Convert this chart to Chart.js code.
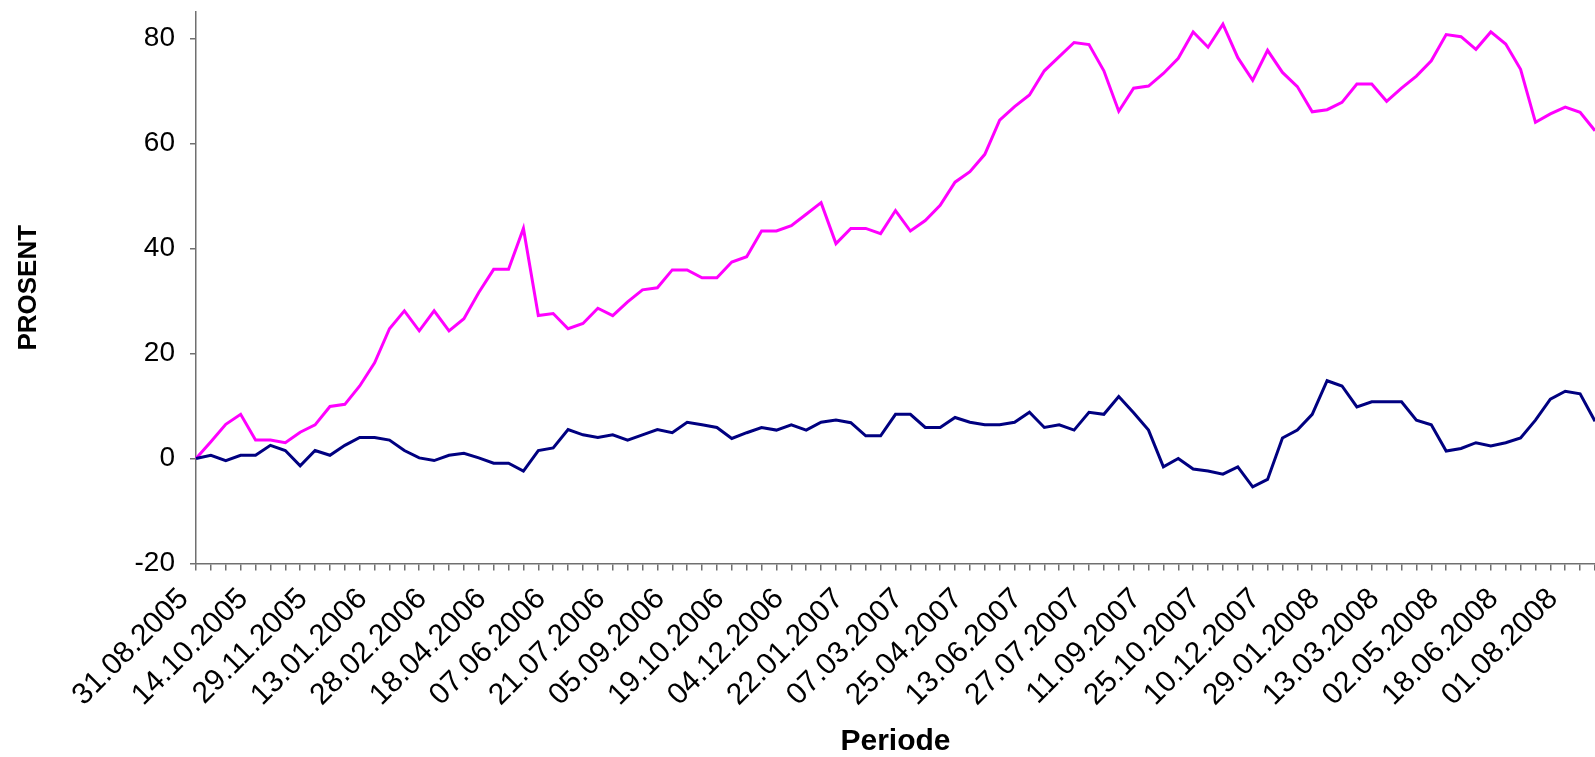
<!DOCTYPE html>
<html>
<head>
<meta charset="utf-8">
<script src="https://cdn.jsdelivr.net/npm/chart.js@4"></script>
<style>
  body { margin: 0; background: #fff; }
  #wrap { width: 1595px; height: 757px; }
</style>
</head>
<body>
<div id="wrap"><canvas id="prosentChart"></canvas></div>
<script>
// dates shown under every 4th observation
const tickLabels = [
    '31.08.2005', '14.10.2005', '29.11.2005', '13.01.2006', '28.02.2006', '18.04.2006',
    '07.06.2006', '21.07.2006', '05.09.2006', '19.10.2006', '04.12.2006', '22.01.2007',
    '07.03.2007', '25.04.2007', '13.06.2007', '27.07.2007', '11.09.2007', '25.10.2007',
    '10.12.2007', '29.01.2008', '13.03.2008', '02.05.2008', '18.06.2008', '01.08.2008'
];

const yTicks = [-20, 0, 20, 40, 60, 80];

// magenta series (percent)
const serie1 = [
    0, 3.2, 6.5, 8.4, 3.5, 3.5, 3.0, 5.0, 6.4, 9.9,
    10.3, 13.8, 18.2, 24.7, 28.1, 24.3, 28.1, 24.3, 26.6, 31.6,
    36.0, 36.0, 43.8, 27.2, 27.6, 24.7, 25.7, 28.6, 27.2, 29.8,
    32.1, 32.5, 35.9, 35.9, 34.4, 34.4, 37.4, 38.4, 43.3, 43.3,
    44.3, 46.5, 48.7, 40.9, 43.8, 43.8, 42.8, 47.2, 43.3, 45.3,
    48.2, 52.6, 54.6, 57.9, 64.4, 67.0, 69.2, 73.8, 76.5, 79.2,
    78.8, 73.8, 66.1, 70.5, 70.9, 73.3, 76.2, 81.2, 78.3, 82.7,
    76.3, 72.0, 77.7, 73.5, 70.8, 66.0, 66.4, 67.8, 71.3, 71.3,
    68.0, 70.5, 72.8, 75.7, 80.7, 80.3, 77.9, 81.2, 78.9, 74.1,
    64.0, 65.6, 66.9, 65.9, 62.4
];

// navy series (percent)
const serie2 = [
    0, 0.6, -0.4, 0.6, 0.6, 2.5, 1.5, -1.4, 1.5, 0.6,
    2.5, 4.0, 4.0, 3.5, 1.5, 0.1, -0.4, 0.6, 1.0, 0.1,
    -0.9, -0.9, -2.4, 1.5, 2.0, 5.5, 4.5, 4.0, 4.5, 3.5,
    4.5, 5.5, 4.9, 6.9, 6.4, 5.9, 3.8, 4.9, 5.9, 5.4,
    6.4, 5.4, 6.9, 7.3, 6.8, 4.3, 4.3, 8.4, 8.4, 5.9,
    5.9, 7.8, 6.9, 6.4, 6.4, 6.9, 8.8, 5.9, 6.4, 5.4,
    8.8, 8.4, 11.8, 8.7, 5.4, -1.6, 0.0, -2.0, -2.4, -3.0,
    -1.6, -5.4, -4.0, 3.9, 5.4, 8.4, 14.8, 13.8, 9.8, 10.8,
    10.8, 10.8, 7.3, 6.4, 1.4, 1.9, 3.0, 2.4, 3.0, 3.9,
    7.3, 11.3, 12.8, 12.3, 7.1
];

const labelEvery = 4;
const labels = serie1.map((v, i) => i % labelEvery === 0 ? (tickLabels[i / labelEvery] || '') : '');

const axisColor = '#707070';
const fontFamily = '"Liberation Sans", Arial, sans-serif';

const ctx = document.getElementById('prosentChart').getContext('2d');
const chart = new Chart(ctx, {
    type: 'line',
    data: {
        labels: labels,
        datasets: [
            {
                label: 'serie2',
                data: serie2,
                borderColor: '#000080',
                borderWidth: 3,
                pointRadius: 0,
                tension: 0,
                fill: false
            },
            {
                label: 'serie1',
                data: serie1,
                borderColor: '#ff00ff',
                borderWidth: 3,
                pointRadius: 0,
                tension: 0,
                fill: false
            }
        ]
    },
    options: {
        responsive: true,
        maintainAspectRatio: false,
        animation: false,
        layout: { padding: { top: 12, left: 0, right: 0, bottom: 0 } },
        plugins: {
            legend: { display: false },
            tooltip: { enabled: false }
        },
        elements: { line: { borderJoinStyle: 'miter' } },
        scales: {
            x: {
                offset: false,
                grid: {
                    display: true,
                    drawOnChartArea: false,
                    drawTicks: true,
                    tickLength: 7,
                    color: axisColor,
                    lineWidth: 1.5
                },
                border: { display: true, color: axisColor, width: 1.5 },
                ticks: {
                    autoSkip: false,
                    maxRotation: 45,
                    minRotation: 45,
                    padding: 11,
                    labelOffset: -12,
                    color: '#000',
                    font: { family: fontFamily, size: 30 }
                },
                title: {
                    display: true,
                    text: 'Periode',
                    color: '#000',
                    padding: 0,
                    font: { family: fontFamily, size: 30, weight: 'bold', lineHeight: 1 }
                },
                afterFit: scale => {
                    scale.height = 193.5;
                    scale.paddingRight = 0;
                }
            },
            y: {
                min: -20,
                max: 85,
                grid: {
                    display: true,
                    drawOnChartArea: false,
                    drawTicks: true,
                    tickLength: 6,
                    color: axisColor,
                    lineWidth: 1.5
                },
                border: { display: true, color: axisColor, width: 1.5 },
                ticks: {
                    padding: 15,
                    color: '#000',
                    font: { family: fontFamily, size: 28 }
                },
                afterBuildTicks: scale => {
                    scale.ticks = yTicks.map(v => ({ value: v }));
                },
                title: {
                    display: true,
                    text: 'PROSENT',
                    color: '#000',
                    padding: { top: 16, bottom: 0 },
                    font: { family: fontFamily, size: 26, weight: 'bold', lineHeight: 1 }
                },
                afterFit: scale => {
                    scale.width = 196;
                    scale.paddingTop = 0;
                    scale.paddingBottom = 0;
                }
            }
        }
    }
});
</script>
</body>
</html>
